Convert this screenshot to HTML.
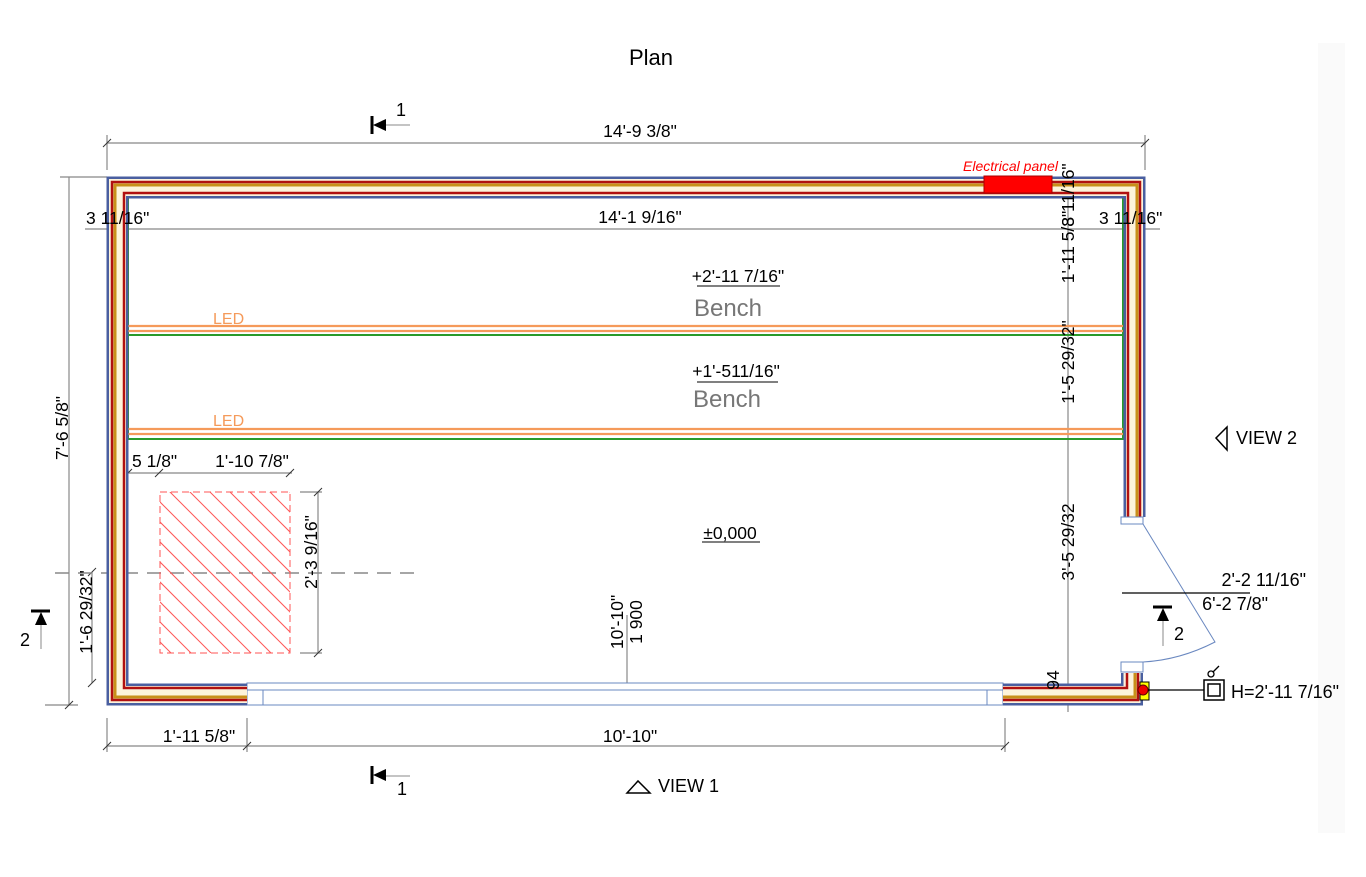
<!DOCTYPE html>
<html><head><meta charset="utf-8"><style>
html,body{margin:0;padding:0;background:#fff;}
svg{display:block;font-family:"Liberation Sans",sans-serif;}
</style></head><body>
<svg width="1366" height="877" viewBox="0 0 1366 877" xmlns="http://www.w3.org/2000/svg">
<rect x="1318" y="43" width="27" height="790" fill="#fafafa"/>
<text x="651" y="65" font-size="22" text-anchor="middle">Plan</text>

<g stroke="#888" stroke-width="1.2" fill="none">
<line x1="107" y1="143" x2="1145" y2="143"/>
<line x1="107" y1="135" x2="107" y2="170"/><line x1="1145" y1="135" x2="1145" y2="170"/>
<line x1="85" y1="229" x2="1160" y2="229"/>
<line x1="69" y1="177" x2="69" y2="705"/>
<line x1="60" y1="177" x2="107" y2="177"/><line x1="45" y1="705" x2="78" y2="705"/>
<line x1="1068" y1="177" x2="1068" y2="712"/>
<line x1="107" y1="746" x2="1005" y2="746"/>
<line x1="107" y1="718" x2="107" y2="752"/><line x1="247" y1="718" x2="247" y2="752"/><line x1="1005" y1="718" x2="1005" y2="752"/>
<line x1="92" y1="572" x2="92" y2="683"/>
<line x1="128" y1="473" x2="292" y2="473"/>
<line x1="318" y1="492" x2="318" y2="653"/>
<line x1="300" y1="492" x2="322" y2="492"/><line x1="300" y1="653" x2="322" y2="653"/>
<line x1="627" y1="615" x2="627" y2="683"/>
</g>
<g stroke="#333" stroke-width="1">
<line x1="103" y1="147" x2="111" y2="139"/><line x1="1141" y1="147" x2="1149" y2="139"/>
<line x1="103" y1="750" x2="111" y2="742"/><line x1="243" y1="750" x2="251" y2="742"/><line x1="1001" y1="750" x2="1009" y2="742"/>
<line x1="124" y1="477" x2="132" y2="469"/><line x1="155" y1="477" x2="163" y2="469"/><line x1="286" y1="477" x2="294" y2="469"/>
<line x1="314" y1="496" x2="322" y2="488"/><line x1="314" y1="657" x2="322" y2="649"/>
<line x1="88" y1="576" x2="96" y2="568"/><line x1="88" y1="687" x2="96" y2="679"/>
<line x1="65" y1="709" x2="73" y2="701"/>
</g>
<line x1="55" y1="573" x2="420" y2="573" stroke="#888" stroke-width="1.6" stroke-dasharray="14,9"/>

<defs><clipPath id="hc"><rect x="160" y="492" width="130" height="161"/></clipPath></defs>
<rect x="160" y="492" width="130" height="161" fill="none" stroke="#f55" stroke-width="1" stroke-dasharray="7,4"/>
<g clip-path="url(#hc)" stroke="#f55" stroke-width="1">
<line x1="60" y1="442" x2="330" y2="712"/><line x1="80" y1="442" x2="350" y2="712"/><line x1="100" y1="442" x2="370" y2="712"/>
<line x1="120" y1="442" x2="390" y2="712"/><line x1="140" y1="442" x2="410" y2="712"/><line x1="160" y1="442" x2="430" y2="712"/>
<line x1="180" y1="442" x2="450" y2="712"/><line x1="200" y1="442" x2="470" y2="712"/><line x1="220" y1="442" x2="490" y2="712"/>
<line x1="240" y1="442" x2="510" y2="712"/><line x1="40" y1="442" x2="310" y2="712"/><line x1="20" y1="442" x2="290" y2="712"/>
<line x1="0" y1="442" x2="270" y2="712"/><line x1="-20" y1="442" x2="250" y2="712"/><line x1="-40" y1="442" x2="230" y2="712"/>
</g>

<g stroke="#6a88c0" stroke-width="1" fill="none">
<rect x="247" y="683" width="756" height="22"/>
<line x1="247" y1="690" x2="1003" y2="690"/>
<line x1="263" y1="690" x2="263" y2="705"/><line x1="987" y1="690" x2="987" y2="705"/>
</g>

<g stroke="#2a9a2a" stroke-width="2" fill="none">
<rect x="128" y="197" width="995" height="242"/>
<line x1="128" y1="335" x2="1123" y2="335"/>
</g>
<g stroke="#f59a5a" stroke-width="2.2">
<line x1="128" y1="326" x2="1123" y2="326"/><line x1="128" y1="331" x2="1123" y2="331"/>
<line x1="128" y1="429" x2="1123" y2="429"/><line x1="128" y1="434" x2="1123" y2="434"/>
</g>
<text x="213" y="324" font-size="16" fill="#f59a5a">LED</text>
<text x="213" y="426" font-size="16" fill="#f59a5a">LED</text>

<g fill="none" stroke-linejoin="miter">
<polyline points="247,694.5 117.5,694.5 117.5,187.5 1134.5,187.5 1134.5,517" stroke="#4a5fa0" stroke-width="22"/>
<polyline points="247,694.5 117.5,694.5 117.5,187.5 1134.5,187.5 1134.5,517" stroke="#fdf4dc" stroke-width="17"/>
<polyline points="247,700 112,700 112,182 1140,182 1140,517" stroke="#b01010" stroke-width="2.5"/>
<polyline points="247,697 115,697 115,185 1137,185 1137,517" stroke="#c8901a" stroke-width="3"/>
<polyline points="247,688 124,688 124,193 1128,193 1128,517" stroke="#b01010" stroke-width="2.5"/>
<polyline points="1003,694.5 1132,694.5 1132,673" stroke="#4a5fa0" stroke-width="22"/>
<polyline points="1003,694.5 1132,694.5 1132,673" stroke="#fdf4dc" stroke-width="17"/>
<polyline points="1003,700 1138,700 1138,673" stroke="#b01010" stroke-width="2.5"/>
<polyline points="1003,697 1135,697 1135,673" stroke="#c8901a" stroke-width="3"/>
<polyline points="1003,688 1127,688 1127,673" stroke="#b01010" stroke-width="2.5"/>
</g>
<g stroke="#6a88c0" stroke-width="1" fill="#fff">
<rect x="1121" y="517" width="22" height="7"/>
<rect x="1121" y="662" width="22" height="10"/>
</g>
<path d="M1143,524 L1215,642 Q1180,660 1143,662" fill="none" stroke="#6a88c0" stroke-width="1"/>

<rect x="984" y="176" width="68" height="17" fill="#f00" stroke="#a00" stroke-width="1"/>
<text x="963" y="171" font-size="14" font-style="italic" fill="#f00">Electrical panel</text>

<rect x="1140" y="682" width="9" height="18" fill="#ff0" stroke="#000" stroke-width="1"/>
<circle cx="1143" cy="690" r="5" fill="#e00" stroke="#600" stroke-width="1"/>
<line x1="1148" y1="690" x2="1205" y2="690" stroke="#000" stroke-width="1.3"/>
<rect x="1204" y="680" width="20" height="20" fill="#fff" stroke="#000" stroke-width="1.5"/>
<rect x="1208" y="684" width="12" height="12" fill="#fff" stroke="#000" stroke-width="1.5"/>
<circle cx="1211" cy="674" r="3" fill="none" stroke="#000" stroke-width="1.3"/>
<line x1="1213" y1="672" x2="1219" y2="666" stroke="#000" stroke-width="1.3"/>
<text x="1231" y="698" font-size="18">H=2'-11 7/16"</text>

<line x1="1122" y1="593" x2="1250" y2="593" stroke="#000" stroke-width="1.3"/>
<text x="1306" y="586" font-size="18" text-anchor="end">2'-2 11/16"</text>
<text x="1268" y="610" font-size="18" text-anchor="end">6'-2 7/8"</text>

<g fill="#000" stroke="#000">
<line x1="372" y1="116" x2="372" y2="134" stroke-width="3"/><path d="M373,125 L386,119 L386,131Z" stroke="none"/><line x1="386" y1="125" x2="410" y2="125" stroke="#888" stroke-width="1"/>
<line x1="372" y1="766" x2="372" y2="784" stroke-width="3"/><path d="M373,775 L386,769 L386,781Z" stroke="none"/><line x1="386" y1="776" x2="410" y2="776" stroke="#888" stroke-width="1"/>
<line x1="31" y1="611" x2="50" y2="611" stroke-width="3"/><path d="M41,612 L35,625 L47,625Z" stroke="none"/><line x1="41" y1="625" x2="41" y2="649" stroke="#888" stroke-width="1"/>
<line x1="1153" y1="607" x2="1172" y2="607" stroke-width="3"/><path d="M1163,608 L1157,621 L1169,621Z" stroke="none"/><line x1="1163" y1="621" x2="1163" y2="646" stroke="#888" stroke-width="1"/>
</g>
<text x="396" y="116" font-size="18">1</text>
<text x="397" y="795" font-size="18">1</text>
<text x="20" y="646" font-size="18">2</text>
<text x="1174" y="640" font-size="18">2</text>
<path d="M627,793 L638,781 L650,793Z" fill="none" stroke="#000" stroke-width="1.5"/>
<text x="658" y="792" font-size="18">VIEW 1</text>
<path d="M1227,427 L1216,438 L1227,450Z" fill="none" stroke="#000" stroke-width="1.5"/>
<text x="1236" y="444" font-size="18">VIEW 2</text>

<g font-size="17.5" fill="#000">
<text x="640" y="137" text-anchor="middle">14'-9 3/8"</text>
<text x="640" y="223" text-anchor="middle">14'-1 9/16"</text>
<text x="86" y="224">3 11/16"</text>
<text x="1099" y="224">3 11/16"</text>
<text x="738" y="282" text-anchor="middle">+2'-11 7/16"</text>
<text x="736" y="377" text-anchor="middle">+1'-511/16"</text>
<text x="730" y="539" text-anchor="middle">±0,000</text>
<text x="132" y="467">5 1/8"</text>
<text x="252" y="467" text-anchor="middle">1'-10 7/8"</text>
<text x="199" y="742" text-anchor="middle">1'-11 5/8"</text>
<text x="630" y="742" text-anchor="middle">10'-10"</text>
<text transform="translate(68,428) rotate(-90)" text-anchor="middle">7'-6 5/8"</text>
<text transform="translate(92,612) rotate(-90)" text-anchor="middle">1'-6 29/32"</text>
<text transform="translate(317,552) rotate(-90)" text-anchor="middle">2'-3 9/16"</text>
<text transform="translate(623,622) rotate(-90)" text-anchor="middle">10'-10"</text>
<text transform="translate(642,622) rotate(-90)" text-anchor="middle">1 900</text>
<text transform="translate(1074,247) rotate(-90)" text-anchor="middle">1'-11 5/8"</text>
<text transform="translate(1074,195) rotate(-90)" text-anchor="middle">3 11/16"</text>
<text transform="translate(1074,362) rotate(-90)" text-anchor="middle">1'-5 29/32"</text>
<text transform="translate(1074,542) rotate(-90)" text-anchor="middle">3'-5 29/32</text>
<text transform="translate(1059,680) rotate(-90)" text-anchor="middle">94</text>
</g>
<g stroke="#000" stroke-width="1">
<line x1="697" y1="286" x2="780" y2="286"/>
<line x1="697" y1="382" x2="778" y2="382"/>
<line x1="702" y1="542" x2="760" y2="542"/>
</g>
<text x="728" y="316" font-size="24" fill="#777" text-anchor="middle">Bench</text>
<text x="727" y="407" font-size="24" fill="#777" text-anchor="middle">Bench</text>
</svg>
</body></html>
